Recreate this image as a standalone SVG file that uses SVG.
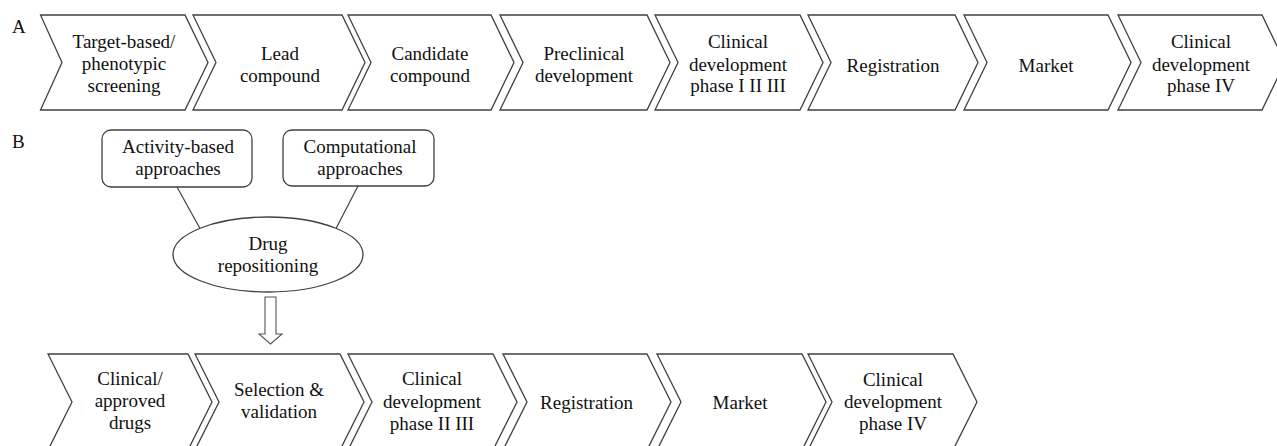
<svg xmlns="http://www.w3.org/2000/svg" width="1277" height="446" viewBox="0 0 1277 446">
<style>
.sh{fill:#fff;stroke:#404040;stroke-width:1.3;stroke-linejoin:miter}
.t{font-family:'Liberation Serif','Tinos','Times New Roman',Times,'DejaVu Serif','Noto Serif',serif;font-size:19px;fill:#111;text-anchor:middle}
.lbl{font-family:'Liberation Serif','Tinos','Times New Roman',Times,'DejaVu Serif','Noto Serif',serif;font-size:19px;fill:#111}
.ln{stroke:#404040;stroke-width:1.2;fill:none}
</style>
<rect width="1277" height="446" fill="#fff"/>
<text class="lbl" x="12" y="33" font-family="Liberation Serif, serif">A</text>
<text class="lbl" x="12" y="148" font-family="Liberation Serif, serif">B</text>
<g id="a1"><polygon class="sh" points="40.5,15 185,15 208,62.5 185,110 40.5,110 62,62.5"/><text class="t"><tspan x="124" y="48">Target-based/</tspan><tspan x="124" y="70">phenotypic</tspan><tspan x="124" y="92">screening</tspan></text></g>
<g id="a2"><polygon class="sh" points="193,15 342,15 365,62.5 342,110 193,110 216,62.5"/><text class="t"><tspan x="280" y="60">Lead</tspan><tspan x="280" y="82">compound</tspan></text></g>
<g id="a3"><polygon class="sh" points="348,15 491,15 514,62.5 491,110 348,110 371,62.5"/><text class="t"><tspan x="430" y="60">Candidate</tspan><tspan x="430" y="82">compound</tspan></text></g>
<g id="a4"><polygon class="sh" points="500,15 647,15 670,62.5 647,110 500,110 523,62.5"/><text class="t"><tspan x="584" y="60">Preclinical</tspan><tspan x="584" y="82">development</tspan></text></g>
<g id="a5"><polygon class="sh" points="655,15 800,15 823,62.5 800,110 655,110 678,62.5"/><text class="t"><tspan x="738" y="48">Clinical</tspan><tspan x="738" y="70.5">development</tspan><tspan x="738" y="92">phase I II III</tspan></text></g>
<g id="a6"><polygon class="sh" points="808,15 955,15 978,62.5 955,110 808,110 831,62.5"/><text class="t" x="893" y="71.5">Registration</text></g>
<g id="a7"><polygon class="sh" points="964,15 1108,15 1131,62.5 1108,110 964,110 987,62.5"/><text class="t" x="1046" y="71.5">Market</text></g>
<g id="a8"><polygon class="sh" points="1118,15 1262,15 1285,62.5 1262,110 1118,110 1141,62.5"/><text class="t"><tspan x="1201" y="48">Clinical</tspan><tspan x="1201" y="70.5">development</tspan><tspan x="1201" y="92">phase IV</tspan></text></g>
<g id="activity"><rect class="sh" x="102" y="130" width="150" height="57" rx="9"/><text class="t"><tspan x="178" y="153">Activity-based</tspan><tspan x="178" y="175">approaches</tspan></text></g>
<g id="computational"><rect class="sh" x="283" y="130" width="151" height="56" rx="9"/><text class="t"><tspan x="360" y="153">Computational</tspan><tspan x="360" y="175">approaches</tspan></text></g>
<g id="connectors">
<line class="ln" x1="177" y1="187" x2="200" y2="228.5"/>
<line class="ln" x1="358" y1="186" x2="336" y2="228.5"/>
<polygon class="sh" points="265,297 276,297 276,334 282,334 270.5,344 259,334 265,334" style="stroke:#555;stroke-width:1.1"/>
</g>
<g id="drug"><ellipse class="sh" cx="268" cy="254.5" rx="95" ry="37.5"/><text class="t"><tspan x="268" y="250">Drug</tspan><tspan x="268" y="272">repositioning</tspan></text></g>
<g id="b1"><polygon class="sh" points="48,354 188,354 212,402 188,450 48,450 72,402"/><text class="t"><tspan x="130" y="385">Clinical/</tspan><tspan x="130" y="407">approved</tspan><tspan x="130" y="429">drugs</tspan></text></g>
<g id="b2"><polygon class="sh" points="195,354 340,354 364,402 340,450 195,450 219,402"/><text class="t"><tspan x="279" y="396">Selection &amp;</tspan><tspan x="279" y="418">validation</tspan></text></g>
<g id="b3"><polygon class="sh" points="348,354 493,354 517,402 493,450 348,450 372,402"/><text class="t"><tspan x="432" y="385">Clinical</tspan><tspan x="432" y="407.5">development</tspan><tspan x="432" y="430">phase II III</tspan></text></g>
<g id="b4"><polygon class="sh" points="503,354 647,354 671,402 647,450 503,450 527,402"/><text class="t" x="586.5" y="409">Registration</text></g>
<g id="b5"><polygon class="sh" points="657,354 802,354 826,402 802,450 657,450 681,402"/><text class="t" x="740" y="409">Market</text></g>
<g id="b6"><polygon class="sh" points="808,354 953,354 977,402 953,450 808,450 832,402"/><text class="t"><tspan x="893" y="386">Clinical</tspan><tspan x="893" y="408">development</tspan><tspan x="893" y="429.5">phase IV</tspan></text></g>
</svg>
